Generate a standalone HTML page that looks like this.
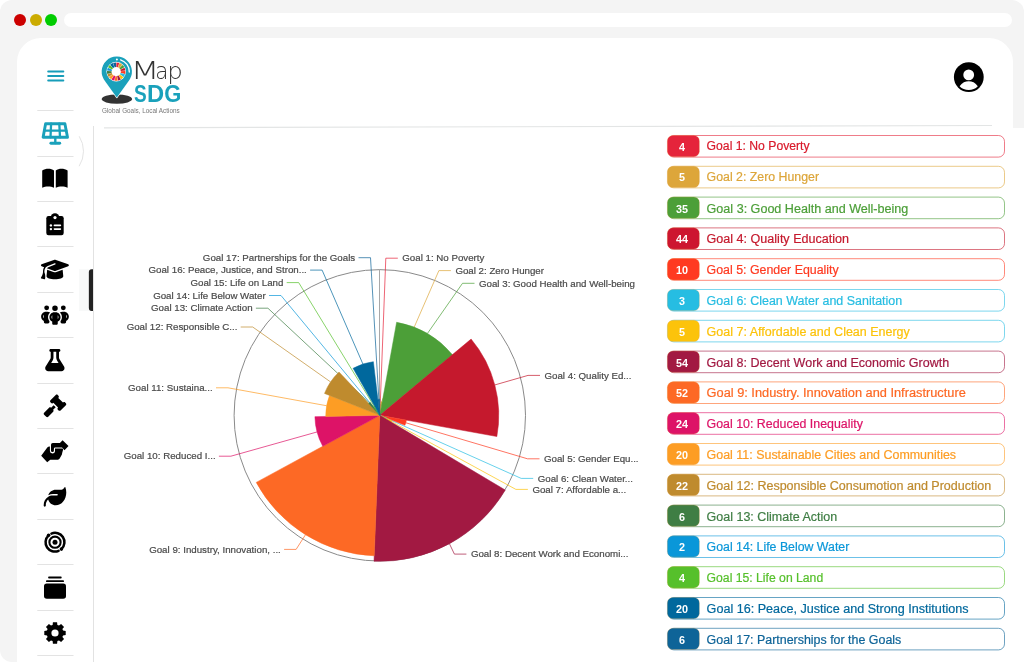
<!DOCTYPE html>
<html><head><meta charset="utf-8"><title>MapSDG</title>
<style>
html,body{margin:0;padding:0;}
body{width:1024px;height:662px;overflow:hidden;background:#fff;position:relative;font-family:"Liberation Sans",Arial,sans-serif;}
.abs{position:absolute;}
.frame{left:0;top:0;width:1024px;height:662px;background:#f4f4f4;border-radius:12px;}
.dot{width:12px;height:12px;border-radius:50%;top:14px;}
.addr{left:64px;top:13px;width:948px;height:14px;background:#fff;border-radius:7px;}
.panel{left:17px;top:38px;width:996px;height:640px;background:#fff;border-radius:24px 24px 0 0;}
.rpanel{left:640px;top:127.5px;width:384px;height:540px;background:#fff;}
svg{position:absolute;left:0;top:0;}
</style></head>
<body>
<div class="abs frame"></div>
<div class="abs dot" style="left:14px;background:#cc0000"></div>
<div class="abs dot" style="left:29.5px;background:#cbab00"></div>
<div class="abs dot" style="left:45px;background:#00cc00"></div>
<div class="abs addr"></div>
<div class="abs panel"></div>
<div class="abs rpanel"></div>
<svg width="1024" height="662" viewBox="0 0 1024 662">
 <!-- sidebar separators -->
 <g stroke="#e3e3e3" stroke-width="1">
  <line x1="37.3" y1="110.5" x2="73.5" y2="110.5"/><line x1="37.3" y1="156.5" x2="73.5" y2="156.5"/><line x1="37.3" y1="201.5" x2="73.5" y2="201.5"/><line x1="37.3" y1="246.5" x2="73.5" y2="246.5"/><line x1="37.3" y1="292.5" x2="73.5" y2="292.5"/><line x1="37.3" y1="337.5" x2="73.5" y2="337.5"/><line x1="37.3" y1="383.5" x2="73.5" y2="383.5"/><line x1="37.3" y1="428.5" x2="73.5" y2="428.5"/><line x1="37.3" y1="473.5" x2="73.5" y2="473.5"/><line x1="37.3" y1="519.5" x2="73.5" y2="519.5"/><line x1="37.3" y1="564.5" x2="73.5" y2="564.5"/><line x1="37.3" y1="610.5" x2="73.5" y2="610.5"/><line x1="37.3" y1="655.5" x2="73.5" y2="655.5"/>
 </g>
 <line x1="93.5" y1="126" x2="93.5" y2="662" stroke="#e2e2e2" stroke-width="1"/>
 <line x1="104" y1="127.8" x2="992" y2="125.5" stroke="#e3e5e5" stroke-width="1.2"/>
 <!-- hamburger -->
 <g stroke="#179db9" stroke-width="2" stroke-linecap="round">
  <line x1="48.2" y1="71.4" x2="63.3" y2="71.4"/>
  <line x1="48.2" y1="76" x2="63.3" y2="76"/>
  <line x1="48.2" y1="80.6" x2="63.3" y2="80.6"/>
 </g>
 <!-- active ripple arc -->
 <path d="M79.21,136.30 A28,28 0 0 1 79.14,166.20" fill="none" stroke="#e4e4e4" stroke-width="1"/>
 <rect x="79" y="269.2" width="10" height="41.7" fill="#f8f9f9"/>
 <path d="M93,269.2 L91.6,269.2 Q88.85,269.2 88.85,272.4 L88.85,307.7 Q88.85,310.9 91.6,310.9 L93,310.9 Z" fill="#222"/>
 <!-- solar panel -->
 <g stroke="#1aa1bb" fill="none" stroke-linecap="round" stroke-linejoin="round">
  <path d="M45.6,123.7 L64.9,123.7 L67.5,137.3 L43.1,137.3 Z" stroke-width="2.9"/>
  <path d="M44.3,130.7 L66.3,130.7 M51.1,123.7 L50.5,137.3 M59.3,123.7 L60.0,137.3" stroke-width="2.3"/>
  <path d="M55.3,137.4 L55.3,143" stroke-width="2.4"/>
  <path d="M50.9,143.3 L59.7,143.3" stroke-width="2.9"/>
 </g>
 <!-- book -->
 <g fill="#000">
  <path d="M42.2,187.8 L42.2,170.5 C43.8,169.2 46.2,168.7 48.3,168.7 C50.5,168.7 52.6,169.3 54,170.6 L54,187.8 C52.4,186.9 50.3,186.6 48.1,186.6 C45.9,186.6 43.8,186.9 42.2,187.8 Z"/>
  <path d="M67.6,187.8 L67.6,170.5 C66,169.2 63.6,168.7 61.5,168.7 C59.3,168.7 57.2,169.3 55.8,170.6 L55.8,187.8 C57.4,186.9 59.5,186.6 61.7,186.6 C63.9,186.6 66,186.9 67.6,187.8 Z"/>
 </g>
 <!-- clipboard -->
 <g>
  <rect x="46.3" y="216" width="17.4" height="19.2" rx="2.2" fill="#000"/>
  <circle cx="55" cy="217.6" r="4.4" fill="#000"/>
  <circle cx="55" cy="217.6" r="1.6" fill="#fff"/>
  <circle cx="50.9" cy="225.4" r="1.2" fill="#fff"/>
  <circle cx="50.9" cy="229.1" r="1.2" fill="#fff"/>
  <path d="M54.4,225.4 L60.4,225.4 M54.4,229.1 L60.4,229.1" stroke="#fff" stroke-width="1.6" stroke-linecap="round"/>
 </g>
 <!-- graduation cap FA6 -->
 <path transform="translate(40.9,258.3) scale(0.04375)" d="M320 32c-8.1 0-16.1 1.4-23.7 4.1L15.8 137.4C6.3 140.9 0 149.9 0 160s6.3 19.1 15.8 22.6l57.9 20.9C57.3 229.3 48 259.8 48 291.9v28.1c0 28.4-10.8 57.7-22.3 80.8c-6.5 13-13.9 25.8-22.5 37.6C0 442.7-.9 448.3 .9 453.4s6 8.9 11.2 10.2l64 16c4.2 1.1 8.7 .3 12.4-2s6.3-6.1 7.1-10.4c8.6-42.8 4.3-81.2-2.1-108.7C90.3 344.3 86 329.8 80 316.5V291.9c0-30.2 10.2-58.7 27.9-81.5c12.9-15.5 29.6-28 49.2-35.7l157-61.7c8.2-3.2 17.5 .8 20.7 9s-.8 17.5-9 20.7l-157 61.7c-12.4 4.9-23.3 12.4-32.2 21.6l159.6 57.6c7.6 2.7 15.6 4.1 23.7 4.1s16.1-1.4 23.7-4.1L624.2 182.6c9.5-3.4 15.8-12.5 15.8-22.6s-6.3-19.1-15.8-22.6L343.7 36.1C336.1 33.4 328.1 32 320 32zM128 408c0 35.3 86 72 192 72s192-36.7 192-72L496.7 262.6 354.5 314c-11.1 4-22.8 6-34.5 6s-23.5-2-34.5-6L143.3 262.6 128 408z"/>
 <!-- people group FA6 -->
 <path transform="translate(41.1,304.0) scale(0.0434)" d="M72 88a56 56 0 1 1 112 0A56 56 0 1 1 72 88zM64 245.7C54 256.9 48 271.8 48 288s6 31.1 16 42.3V245.7zm144.4-49.3C178.7 222.7 160 261.2 160 304c0 34.3 12 65.8 32 90.5V416c0 17.7-14.3 32-32 32H96c-17.7 0-32-14.3-32-32V389.2C26.2 371.2 0 332.7 0 288c0-61.9 50.1-112 112-112h32c24 0 46.2 7.5 64.4 20.3zM448 416V394.5c20-24.7 32-56.2 32-90.5c0-42.8-18.7-81.3-48.4-107.7C449.8 183.5 472 176 496 176h32c61.9 0 112 50.1 112 112c0 44.7-26.2 83.2-64 101.2V416c0 17.7-14.3 32-32 32H480c-17.7 0-32-14.3-32-32zm8-328a56 56 0 1 1 112 0A56 56 0 1 1 456 88zM576 245.7v84.7c10-11.3 16-26.1 16-42.3s-6-31.1-16-42.3zM320 32a64 64 0 1 1 0 128 64 64 0 1 1 0-128zM240 304c0 16.2 6 31 16 42.3V261.7c-10 11.3-16 26.1-16 42.3zm144-42.3v84.7c10-11.3 16-26.1 16-42.3s-6-31.1-16-42.3zM448 304c0 44.7-26.2 83.2-64 101.2V448c0 17.7-14.3 32-32 32H288c-17.7 0-32-14.3-32-32V405.2c-37.8-18-64-56.5-64-101.2c0-61.9 50.1-112 112-112h32c61.9 0 112 50.1 112 112z"/>
 <!-- flask FA6 -->
 <path transform="translate(45.2,349.1) scale(0.0431)" d="M288 0H160 128C110.3 0 96 14.3 96 32s14.3 32 32 32V196.8c0 11.8-3.3 23.5-9.5 33.5L10.3 406.2C3.6 417.2 0 429.7 0 442.6C0 480.9 31.1 512 69.4 512H378.6c38.3 0 69.4-31.1 69.4-69.4c0-12.8-3.6-25.4-10.3-36.4L329.5 230.4c-6.2-10.1-9.5-21.7-9.5-33.5V64c17.7 0 32-14.3 32-32s-14.3-32-32-32H288zM192 196.8V64h64V196.8c0 23.7 6.6 46.9 19 67.1L309.5 320h-171L173 263.9c12.4-20.2 19-43.4 19-67.1z"/>
 <!-- gavel FA6 -->
 <path transform="translate(43.7,394.6) scale(0.0441)" d="M318.6 9.4c-12.5-12.5-32.8-12.5-45.3 0l-120 120c-12.5 12.5-12.5 32.8 0 45.3l16 16c12.5 12.5 32.8 12.5 45.3 0l4-4L325.4 293.4l-4 4c-12.5 12.5-12.5 32.8 0 45.3l16 16c12.5 12.5 32.8 12.5 45.3 0l120-120c12.5-12.5 12.5-32.8 0-45.3l-16-16c-12.5-12.5-32.8-12.5-45.3 0l-4 4L330.6 74.6l4-4c12.5-12.5 12.5-32.8 0-45.3l-16-16zm-152 288c-12.5-12.5-32.8-12.5-45.3 0l-112 112c-12.5 12.5-12.5 32.8 0 45.3l48 48c12.5 12.5 32.8 12.5 45.3 0l112-112c12.5-12.5 12.5-32.8 0-45.3l-1.4-1.4L272 285.3 226.7 240 168 298.7l-1.4-1.4z"/>
 <!-- handshake -->
 <g fill="#000">
  <path d="M52.8,442.9 L59.9,442.9 L62.6,440.3 L68.5,446.1 L64.5,450.3 L62.0,447.5 L55.2,447.5 Q53.9,447.5 53.9,448.8 L53.9,450.8 Q53.9,452.1 52.5,452.1 Q51.0,452.1 51.0,450.8 L51.0,444.7 Q51.0,442.9 52.8,442.9 Z"/>
  <path d="M41.2,455.8 L47.3,447.6 Q48.3,446.3 49.9,446.5 L49.9,451.0 Q49.9,453.4 52.4,453.4 Q55.0,453.4 55.0,451.0 L55.0,448.5 L62.4,448.5 Q63.3,448.9 63.0,450.0 L62.3,452.4 L61.9,454.5 L60.8,456.6 L59.5,458.7 L58.1,459.7 L50.3,459.7 L47.2,462.3 Z"/>
 </g>
 <!-- leaf FA6 -->
 <path transform="translate(43.7,485.5) scale(0.0441)" d="M272 96c-78.6 0-145.1 51.5-167.7 122.5c33.6-17 71.5-26.5 111.7-26.5h88c8.8 0 16 7.2 16 16s-7.2 16-16 16H288 216s0 0 0 0c-16.6 0-32.7 1.9-48.3 5.4c-25.9 5.9-49.9 16.4-71.4 30.7c0 0 0 0 0 0C38.3 298.8 0 364.9 0 440v16c0 13.3 10.7 24 24 24s24-10.7 24-24V440c0-48.7 20.7-92.5 53.8-123.2C121.6 392.3 190.3 448 272 448l1 0c132.1-.7 239-130.9 239-291.4c0-42.6-7.5-83.1-21.1-119.6c-2.6-6.9-12.7-6.6-16.2-.1C455.9 72.1 418.7 96 376 96L272 96z"/>
 <!-- cyclone -->
 <g fill="none" stroke="#000">
  <circle cx="55" cy="542.2" r="2.5" fill="#000" stroke="none"/>
  <circle cx="55" cy="542.2" r="5.6" stroke-width="2.1"/>
  <path d="M48.4,535.6 A9.3,9.3 0 0 0 58.6,550.8" stroke-width="2.5" stroke-linecap="round"/>
  <path d="M61.6,548.8 A9.3,9.3 0 0 0 51.4,533.6" stroke-width="2.5" stroke-linecap="round"/>
  <circle cx="48.6" cy="535.3" r="1.8" fill="#000" stroke="none"/>
  <circle cx="61.4" cy="549.1" r="1.8" fill="#000" stroke="none"/>
 </g>
 <!-- stack box -->
 <g fill="#000">
  <rect x="48.1" y="576.6" width="13.6" height="1.9" rx="0.9"/>
  <rect x="46" y="580.2" width="18" height="1.9" rx="0.9"/>
  <rect x="44" y="583.5" width="22" height="15.3" rx="2.8"/>
 </g>
 <!-- gear -->
 <path d="M52.61,624.95 L52.92,622.30 L57.08,622.30 L57.39,624.95 L59.01,625.62 L61.10,623.96 L64.04,626.90 L62.38,628.99 L63.05,630.61 L65.70,630.92 L65.70,635.08 L63.05,635.39 L62.38,637.01 L64.04,639.10 L61.10,642.04 L59.01,640.38 L57.39,641.05 L57.08,643.70 L52.92,643.70 L52.61,641.05 L50.99,640.38 L48.90,642.04 L45.96,639.10 L47.62,637.01 L46.95,635.39 L44.30,635.08 L44.30,630.92 L46.95,630.61 L47.62,628.99 L45.96,626.90 L48.90,623.96 L50.99,625.62Z" fill="#000"/>
 <circle cx="55" cy="633" r="3.6" fill="#fff"/>
 <!-- logo -->
 <ellipse cx="116.9" cy="99.1" rx="15.2" ry="4.7" fill="#333"/>
 <path d="M116.8,97.6 L105.3,81.4 A15.1,15.1 0 1 1 128.3,81.4 Z" fill="#1aa1bb" stroke="#fff" stroke-width="1.2" stroke-linejoin="round"/>
 <path d="M116.8,97.6 L105.3,81.4 A15.1,15.1 0 1 1 128.3,81.4 Z" fill="#1aa1bb"/>
 <circle cx="116.2" cy="71.6" r="9.8" fill="#fff"/>
 <path d="M116.39,62.40A9.2,9.2 0 0 1 119.34,62.95L117.77,67.28A4.6,4.6 0 0 0 116.30,67.00Z" fill="#e5243b"/><path d="M119.70,63.09A9.2,9.2 0 0 1 122.25,64.67L119.23,68.14A4.6,4.6 0 0 0 117.95,67.35Z" fill="#dda63a"/><path d="M122.54,64.93A9.2,9.2 0 0 1 124.35,67.33L120.27,69.46A4.6,4.6 0 0 0 119.37,68.27Z" fill="#4c9f38"/><path d="M124.52,67.67A9.2,9.2 0 0 1 125.34,70.56L120.77,71.08A4.6,4.6 0 0 0 120.36,69.64Z" fill="#c5192d"/><path d="M125.38,70.94A9.2,9.2 0 0 1 125.10,73.93L120.65,72.77A4.6,4.6 0 0 0 120.79,71.27Z" fill="#ff3a21"/><path d="M124.99,74.30A9.2,9.2 0 0 1 123.66,76.99L119.93,74.29A4.6,4.6 0 0 0 120.60,72.95Z" fill="#26bde2"/><path d="M123.42,77.30A9.2,9.2 0 0 1 121.21,79.32L118.70,75.46A4.6,4.6 0 0 0 119.81,74.45Z" fill="#fcc30b"/><path d="M120.88,79.52A9.2,9.2 0 0 1 118.08,80.61L117.14,76.10A4.6,4.6 0 0 0 118.54,75.56Z" fill="#a21942"/><path d="M117.70,80.68A9.2,9.2 0 0 1 114.70,80.68L115.45,76.14A4.6,4.6 0 0 0 116.95,76.14Z" fill="#fd6925"/><path d="M114.32,80.61A9.2,9.2 0 0 1 111.52,79.52L113.86,75.56A4.6,4.6 0 0 0 115.26,76.10Z" fill="#dd1367"/><path d="M111.19,79.32A9.2,9.2 0 0 1 108.98,77.30L112.59,74.45A4.6,4.6 0 0 0 113.70,75.46Z" fill="#fd9d24"/><path d="M108.74,76.99A9.2,9.2 0 0 1 107.41,74.30L111.80,72.95A4.6,4.6 0 0 0 112.47,74.29Z" fill="#bf8b2e"/><path d="M107.30,73.93A9.2,9.2 0 0 1 107.02,70.94L111.61,71.27A4.6,4.6 0 0 0 111.75,72.77Z" fill="#3f7e44"/><path d="M107.06,70.56A9.2,9.2 0 0 1 107.88,67.67L112.04,69.64A4.6,4.6 0 0 0 111.63,71.08Z" fill="#0a97d9"/><path d="M108.05,67.33A9.2,9.2 0 0 1 109.86,64.93L113.03,68.27A4.6,4.6 0 0 0 112.13,69.46Z" fill="#56c02b"/><path d="M110.15,64.67A9.2,9.2 0 0 1 112.70,63.09L114.45,67.35A4.6,4.6 0 0 0 113.17,68.14Z" fill="#00689d"/><path d="M113.06,62.95A9.2,9.2 0 0 1 116.01,62.40L116.10,67.00A4.6,4.6 0 0 0 114.63,67.28Z" fill="#0e6498"/>
 <circle cx="116.9" cy="59.5" r="1" fill="#fff"/>
 <path d="M120.6,59.8 A12.4,12.4 0 0 1 129.3,72" fill="none" stroke="#fff" stroke-width="1.3" stroke-linecap="round"/>
 <text y="78.6" font-family="DejaVu Sans, sans-serif" font-weight="200" fill="#333"><tspan x="130.53" font-size="24.3" textLength="29.09" lengthAdjust="spacingAndGlyphs">M</tspan><tspan x="155.29" font-size="22.9" textLength="13.15" lengthAdjust="spacingAndGlyphs">a</tspan><tspan x="167.20" font-size="22.3" textLength="15.57" lengthAdjust="spacingAndGlyphs">p</tspan></text>
 <text y="101.8" font-family="Liberation Sans, Arial, sans-serif" font-size="23.5" font-weight="bold" fill="#1aa1bb"><tspan x="134.05" textLength="12.70" lengthAdjust="spacingAndGlyphs">S</tspan><tspan x="147.00" textLength="17.14" lengthAdjust="spacingAndGlyphs">D</tspan><tspan x="164.30" textLength="17.07" lengthAdjust="spacingAndGlyphs">G</tspan></text>
 <text x="102" y="112.8" font-family="Liberation Sans, Arial, sans-serif" font-size="7.4" fill="#777" textLength="77.7" lengthAdjust="spacingAndGlyphs">Global Goals, Local Actions</text>
 <!-- user icon -->
 <circle cx="968.8" cy="77.1" r="14.9" fill="#000"/>
 <circle cx="968.7" cy="74.9" r="5.4" fill="#fff"/>
 <path d="M959.6,86.3 C962,82.6 965.5,81.3 968.7,81.3 C972,81.3 975.4,82.6 977.8,86.3 C975.5,88.8 972.3,90.1 968.7,90.1 C965.1,90.1 961.9,88.8 959.6,86.3 Z" fill="#fff"/>
</svg>
<svg class="chart" width="1024" height="662" viewBox="0 0 1024 662">
<circle cx="379.8" cy="415.35" r="145.7" fill="none" stroke="#8a8a8a" stroke-width="1"/>
<line x1="379.5" y1="415.35" x2="379.5" y2="269.65000000000003" stroke="#a8a8a8" stroke-width="1"/>
<g fill="none" stroke-width="1" stroke-opacity="0.7"><path d="M397.8,258.2L385.8,258.2L380.23,404.54" stroke="#e5243b"/><path d="M450.9,270.6L438.9,270.6L381.54,401.94" stroke="#dda63a"/><path d="M474.5,283.3L462.5,283.3L427.39,333.56" stroke="#4c9f38"/><path d="M540.0,375.4L528.0,375.4L494.81,384.94" stroke="#c5192d"/><path d="M539.5,458.8L527.5,458.8L405.80,422.78" stroke="#ff3a21"/><path d="M533.2,478.4L521.2,478.4L387.25,418.57" stroke="#26bde2"/><path d="M527.9,489.4L515.9,489.4L391.75,421.68" stroke="#fcc30b"/><path d="M466.4,554.1L454.4,554.1L449.42,543.68" stroke="#a21942"/><path d="M284.1,549.4L296.1,549.4L305.51,534.71" stroke="#fd6925"/><path d="M218.9,456.2L230.9,456.2L317.07,431.94" stroke="#dd1367"/><path d="M216.0,387.8L228.0,387.8L326.59,405.72" stroke="#fd9d24"/><path d="M240.7,327.0L252.7,327.0L330.59,381.94" stroke="#bf8b2e"/><path d="M255.9,308.2L267.9,308.2L369.40,402.90" stroke="#3f7e44"/><path d="M269.0,295.5L281.0,295.5L376.67,410.94" stroke="#0a97d9"/><path d="M286.7,282.6L298.7,282.6L374.09,406.17" stroke="#56c02b"/><path d="M310.1,270.1L322.1,270.1L362.89,363.99" stroke="#00689d"/><path d="M358.5,257.7L370.5,257.7L378.83,399.16" stroke="#0e6498"/></g>
<path d="M379.80,415.35L379.80,404.54A10.81,10.81 0 0 1 380.66,404.57Z" fill="#e5243b" stroke="#e5243b" stroke-width="0.5" stroke-linejoin="round"/><path d="M379.80,415.35L380.87,401.87A13.52,13.52 0 0 1 382.21,402.05Z" fill="#dda63a" stroke="#dda63a" stroke-width="0.5" stroke-linejoin="round"/><path d="M379.80,415.35L396.64,322.23A94.63,94.63 0 0 1 452.42,354.68Z" fill="#4c9f38" stroke="#4c9f38" stroke-width="0.5" stroke-linejoin="round"/><path d="M379.80,415.35L471.10,339.08A118.96,118.96 0 0 1 496.86,436.53Z" fill="#c5192d" stroke="#c5192d" stroke-width="0.5" stroke-linejoin="round"/><path d="M379.80,415.35L406.41,420.16A27.04,27.04 0 0 1 404.93,425.32Z" fill="#ff3a21" stroke="#ff3a21" stroke-width="0.5" stroke-linejoin="round"/><path d="M379.80,415.35L387.34,418.34A8.11,8.11 0 0 1 387.15,418.79Z" fill="#26bde2" stroke="#26bde2" stroke-width="0.5" stroke-linejoin="round"/><path d="M379.80,415.35L392.05,421.08A13.52,13.52 0 0 1 391.42,422.26Z" fill="#fcc30b" stroke="#fcc30b" stroke-width="0.5" stroke-linejoin="round"/><path d="M379.80,415.35L505.26,490.02A146.00,146.00 0 0 1 374.00,561.23Z" fill="#a21942" stroke="#a21942" stroke-width="0.5" stroke-linejoin="round"/><path d="M379.80,415.35L374.21,555.83A140.59,140.59 0 0 1 256.22,482.39Z" fill="#fd6925" stroke="#fd6925" stroke-width="0.5" stroke-linejoin="round"/><path d="M379.80,415.35L322.76,446.29A64.89,64.89 0 0 1 314.92,416.64Z" fill="#dd1367" stroke="#dd1367" stroke-width="0.5" stroke-linejoin="round"/><path d="M379.80,415.35L325.74,416.43A54.07,54.07 0 0 1 329.54,395.40Z" fill="#fd9d24" stroke="#fd9d24" stroke-width="0.5" stroke-linejoin="round"/><path d="M379.80,415.35L324.51,393.41A59.48,59.48 0 0 1 339.01,372.05Z" fill="#bf8b2e" stroke="#bf8b2e" stroke-width="0.5" stroke-linejoin="round"/><path d="M379.80,415.35L368.68,403.54A16.22,16.22 0 0 1 370.16,402.30Z" fill="#3f7e44" stroke="#3f7e44" stroke-width="0.5" stroke-linejoin="round"/><path d="M379.80,415.35L376.59,411.00A5.41,5.41 0 0 1 376.76,410.88Z" fill="#0a97d9" stroke="#0a97d9" stroke-width="0.5" stroke-linejoin="round"/><path d="M379.80,415.35L373.72,406.40A10.81,10.81 0 0 1 374.45,405.95Z" fill="#56c02b" stroke="#56c02b" stroke-width="0.5" stroke-linejoin="round"/><path d="M379.80,415.35L353.07,368.34A54.07,54.07 0 0 1 373.36,361.66Z" fill="#00689d" stroke="#00689d" stroke-width="0.5" stroke-linejoin="round"/><path d="M379.80,415.35L377.87,399.24A16.22,16.22 0 0 1 379.80,399.13Z" fill="#0e6498" stroke="#0e6498" stroke-width="0.5" stroke-linejoin="round"/>
<g font-family="Liberation Sans, Arial, sans-serif" font-size="9.72" fill="#4a4a4a" stroke="#4a4a4a" stroke-width="0.2"><text x="402.3" y="261.4">Goal 1: No Poverty</text><text x="455.4" y="273.8">Goal 2: Zero Hunger</text><text x="479.0" y="286.5">Goal 3: Good Health and Well-being</text><text x="544.5" y="378.6">Goal 4: Quality Ed...</text><text x="544.0" y="462.0">Goal 5: Gender Equ...</text><text x="537.7" y="481.6">Goal 6: Clean Water...</text><text x="532.4" y="492.6">Goal 7: Affordable a...</text><text x="470.9" y="557.3">Goal 8: Decent Work and Economi...</text><text x="280.8" y="552.6" text-anchor="end">Goal 9: Industry, Innovation, ...</text><text x="215.6" y="459.4" text-anchor="end">Goal 10: Reduced I...</text><text x="212.7" y="391.0" text-anchor="end">Goal 11: Sustaina...</text><text x="237.4" y="330.2" text-anchor="end">Goal 12: Responsible C...</text><text x="252.6" y="311.4" text-anchor="end">Goal 13: Climate Action</text><text x="265.7" y="298.7" text-anchor="end">Goal 14: Life Below Water</text><text x="283.4" y="285.8" text-anchor="end">Goal 15: Life on Land</text><text x="306.8" y="273.3" text-anchor="end">Goal 16: Peace, Justice, and Stron...</text><text x="355.2" y="260.9" text-anchor="end">Goal 17: Partnerships for the Goals</text></g>
</svg>
<svg class="legend" width="1024" height="662" viewBox="0 0 1024 662">
<g font-family="Liberation Sans, Arial, sans-serif"><rect x="667.9" y="135.5" width="336.6" height="21.6" rx="6" fill="none" stroke="#e5243b" stroke-opacity="0.6"/><rect x="667.4" y="135.4" width="32" height="21.3" rx="5.5" fill="#e5243b" stroke="#e9a040" stroke-width="0.5" stroke-opacity="0.45"/><text x="681.9" y="150.5" text-anchor="middle" font-weight="bold" font-size="10.8" fill="#fff">4</text><text x="706.6" y="150.0" font-size="12" fill="#d91a2b" stroke="#d91a2b" stroke-width="0.2" textLength="103.0" lengthAdjust="spacingAndGlyphs">Goal 1: No Poverty</text><rect x="667.9" y="166.3" width="336.6" height="21.6" rx="6" fill="none" stroke="#dda63a" stroke-opacity="0.6"/><rect x="667.4" y="166.2" width="32" height="21.3" rx="5.5" fill="#dda63a" stroke="#e9a040" stroke-width="0.5" stroke-opacity="0.45"/><text x="681.9" y="181.3" text-anchor="middle" font-weight="bold" font-size="10.8" fill="#fff">5</text><text x="706.6" y="180.8" font-size="12" fill="#dda63a" stroke="#dda63a" stroke-width="0.2" textLength="112.4" lengthAdjust="spacingAndGlyphs">Goal 2: Zero Hunger</text><rect x="667.9" y="197.1" width="336.6" height="21.6" rx="6" fill="none" stroke="#4c9f38" stroke-opacity="0.6"/><rect x="667.4" y="197.0" width="32" height="21.3" rx="5.5" fill="#4c9f38" stroke="#e9a040" stroke-width="0.5" stroke-opacity="0.45"/><text x="681.9" y="212.5" text-anchor="middle" font-weight="bold" font-size="10.8" fill="#fff">35</text><text x="706.6" y="212.6" font-size="12" fill="#4c9f38" stroke="#4c9f38" stroke-width="0.2" textLength="201.7" lengthAdjust="spacingAndGlyphs">Goal 3: Good Health and Well-being</text><rect x="667.9" y="227.9" width="336.6" height="21.6" rx="6" fill="none" stroke="#c5192d" stroke-opacity="0.6"/><rect x="667.4" y="227.8" width="32" height="21.3" rx="5.5" fill="#cd1530" stroke="#e9a040" stroke-width="0.5" stroke-opacity="0.45"/><text x="681.9" y="243.3" text-anchor="middle" font-weight="bold" font-size="10.8" fill="#fff">44</text><text x="706.6" y="243.4" font-size="12" fill="#c5192d" stroke="#c5192d" stroke-width="0.2" textLength="142.4" lengthAdjust="spacingAndGlyphs">Goal 4: Quality Education</text><rect x="667.9" y="258.7" width="336.6" height="21.6" rx="6" fill="none" stroke="#ff3a21" stroke-opacity="0.6"/><rect x="667.4" y="258.6" width="32" height="21.3" rx="5.5" fill="#ff3a21" stroke="#e9a040" stroke-width="0.5" stroke-opacity="0.45"/><text x="681.9" y="274.1" text-anchor="middle" font-weight="bold" font-size="10.8" fill="#fff">10</text><text x="706.6" y="274.2" font-size="12" fill="#ff3a21" stroke="#ff3a21" stroke-width="0.2" textLength="132.1" lengthAdjust="spacingAndGlyphs">Goal 5: Gender Equality</text><rect x="667.9" y="289.5" width="336.6" height="21.6" rx="6" fill="none" stroke="#26bde2" stroke-opacity="0.6"/><rect x="667.4" y="289.4" width="32" height="21.3" rx="5.5" fill="#26bde2" stroke="#e9a040" stroke-width="0.5" stroke-opacity="0.45"/><text x="681.9" y="304.9" text-anchor="middle" font-weight="bold" font-size="10.8" fill="#fff">3</text><text x="706.6" y="305.0" font-size="12" fill="#26bde2" stroke="#26bde2" stroke-width="0.2" textLength="195.6" lengthAdjust="spacingAndGlyphs">Goal 6: Clean Water and Sanitation</text><rect x="667.9" y="320.3" width="336.6" height="21.6" rx="6" fill="none" stroke="#26bde2" stroke-opacity="0.6"/><rect x="667.4" y="320.2" width="32" height="21.3" rx="5.5" fill="#fcc30b" stroke="#e9a040" stroke-width="0.5" stroke-opacity="0.45"/><text x="681.9" y="335.7" text-anchor="middle" font-weight="bold" font-size="10.8" fill="#fff">5</text><text x="706.6" y="335.8" font-size="12" fill="#fcc30b" stroke="#fcc30b" stroke-width="0.2" textLength="203.2" lengthAdjust="spacingAndGlyphs">Goal 7: Affordable and Clean Energy</text><rect x="667.9" y="351.1" width="336.6" height="21.6" rx="6" fill="none" stroke="#a21942" stroke-opacity="0.6"/><rect x="667.4" y="351.0" width="32" height="21.3" rx="5.5" fill="#a21942" stroke="#e9a040" stroke-width="0.5" stroke-opacity="0.45"/><text x="681.9" y="366.5" text-anchor="middle" font-weight="bold" font-size="10.8" fill="#fff">54</text><text x="706.6" y="366.6" font-size="12" fill="#a21942" stroke="#a21942" stroke-width="0.2" textLength="242.6" lengthAdjust="spacingAndGlyphs">Goal 8: Decent Work and Economic Growth</text><rect x="667.9" y="381.9" width="336.6" height="21.6" rx="6" fill="none" stroke="#fd6925" stroke-opacity="0.6"/><rect x="667.4" y="381.8" width="32" height="21.3" rx="5.5" fill="#fd6925" stroke="#e9a040" stroke-width="0.5" stroke-opacity="0.45"/><text x="681.9" y="397.3" text-anchor="middle" font-weight="bold" font-size="10.8" fill="#fff">52</text><text x="706.6" y="397.4" font-size="12" fill="#fd6925" stroke="#fd6925" stroke-width="0.2" textLength="259.2" lengthAdjust="spacingAndGlyphs">Goal 9: Industry. Innovation and Infrastructure</text><rect x="667.9" y="412.7" width="336.6" height="21.6" rx="6" fill="none" stroke="#dd1367" stroke-opacity="0.6"/><rect x="667.4" y="412.6" width="32" height="21.3" rx="5.5" fill="#dd1367" stroke="#e9a040" stroke-width="0.5" stroke-opacity="0.45"/><text x="681.9" y="428.1" text-anchor="middle" font-weight="bold" font-size="10.8" fill="#fff">24</text><text x="706.6" y="428.2" font-size="12" fill="#dd1367" stroke="#dd1367" stroke-width="0.2" textLength="156.3" lengthAdjust="spacingAndGlyphs">Goal 10: Reduced Inequality</text><rect x="667.9" y="443.5" width="336.6" height="21.6" rx="6" fill="none" stroke="#fd9d24" stroke-opacity="0.6"/><rect x="667.4" y="443.4" width="32" height="21.3" rx="5.5" fill="#fd9d24" stroke="#e9a040" stroke-width="0.5" stroke-opacity="0.45"/><text x="681.9" y="458.9" text-anchor="middle" font-weight="bold" font-size="10.8" fill="#fff">20</text><text x="706.6" y="459.0" font-size="12" fill="#fd9d24" stroke="#fd9d24" stroke-width="0.2" textLength="249.5" lengthAdjust="spacingAndGlyphs">Goal 11: Sustainable Cities and Communities</text><rect x="667.9" y="474.3" width="336.6" height="21.6" rx="6" fill="none" stroke="#bf8b2e" stroke-opacity="0.6"/><rect x="667.4" y="474.2" width="32" height="21.3" rx="5.5" fill="#bf8b2e" stroke="#e9a040" stroke-width="0.5" stroke-opacity="0.45"/><text x="681.9" y="489.7" text-anchor="middle" font-weight="bold" font-size="10.8" fill="#fff">22</text><text x="706.6" y="489.8" font-size="12" fill="#bf8b2e" stroke="#bf8b2e" stroke-width="0.2" textLength="284.6" lengthAdjust="spacingAndGlyphs">Goal 12: Responsible Consumotion and Production</text><rect x="667.9" y="505.1" width="336.6" height="21.6" rx="6" fill="none" stroke="#3f7e44" stroke-opacity="0.6"/><rect x="667.4" y="505.0" width="32" height="21.3" rx="5.5" fill="#3f7e44" stroke="#e9a040" stroke-width="0.5" stroke-opacity="0.45"/><text x="681.9" y="520.5" text-anchor="middle" font-weight="bold" font-size="10.8" fill="#fff">6</text><text x="706.6" y="520.6" font-size="12" fill="#3f7e44" stroke="#3f7e44" stroke-width="0.2" textLength="130.5" lengthAdjust="spacingAndGlyphs">Goal 13: Climate Action</text><rect x="667.9" y="535.9" width="336.6" height="21.6" rx="6" fill="none" stroke="#0a97d9" stroke-opacity="0.6"/><rect x="667.4" y="535.8" width="32" height="21.3" rx="5.5" fill="#0a97d9" stroke="#e9a040" stroke-width="0.5" stroke-opacity="0.45"/><text x="681.9" y="551.3" text-anchor="middle" font-weight="bold" font-size="10.8" fill="#fff">2</text><text x="706.6" y="551.4" font-size="12" fill="#0a97d9" stroke="#0a97d9" stroke-width="0.2" textLength="142.7" lengthAdjust="spacingAndGlyphs">Goal 14: Life Below Water</text><rect x="667.9" y="566.7" width="336.6" height="21.6" rx="6" fill="none" stroke="#56c02b" stroke-opacity="0.6"/><rect x="667.4" y="566.6" width="32" height="21.3" rx="5.5" fill="#56c02b" stroke="#e9a040" stroke-width="0.5" stroke-opacity="0.45"/><text x="681.9" y="582.1" text-anchor="middle" font-weight="bold" font-size="10.8" fill="#fff">4</text><text x="706.6" y="582.2" font-size="12" fill="#56c02b" stroke="#56c02b" stroke-width="0.2" textLength="116.6" lengthAdjust="spacingAndGlyphs">Goal 15: Life on Land</text><rect x="667.9" y="597.5" width="336.6" height="21.6" rx="6" fill="none" stroke="#00689d" stroke-opacity="0.6"/><rect x="667.4" y="597.4" width="32" height="21.3" rx="5.5" fill="#00689d" stroke="#e9a040" stroke-width="0.5" stroke-opacity="0.45"/><text x="681.9" y="612.9" text-anchor="middle" font-weight="bold" font-size="10.8" fill="#fff">20</text><text x="706.6" y="613.0" font-size="12" fill="#00689d" stroke="#00689d" stroke-width="0.2" textLength="261.9" lengthAdjust="spacingAndGlyphs">Goal 16: Peace, Justice and Strong Institutions</text><rect x="667.9" y="628.3" width="336.6" height="21.6" rx="6" fill="none" stroke="#0e6498" stroke-opacity="0.6"/><rect x="667.4" y="628.2" width="32" height="21.3" rx="5.5" fill="#0e6498" stroke="#e9a040" stroke-width="0.5" stroke-opacity="0.45"/><text x="681.9" y="643.7" text-anchor="middle" font-weight="bold" font-size="10.8" fill="#fff">6</text><text x="706.6" y="643.8" font-size="12" fill="#0e6498" stroke="#0e6498" stroke-width="0.2" textLength="194.7" lengthAdjust="spacingAndGlyphs">Goal 17: Partnerships for the Goals</text></g></svg>
</body></html>
